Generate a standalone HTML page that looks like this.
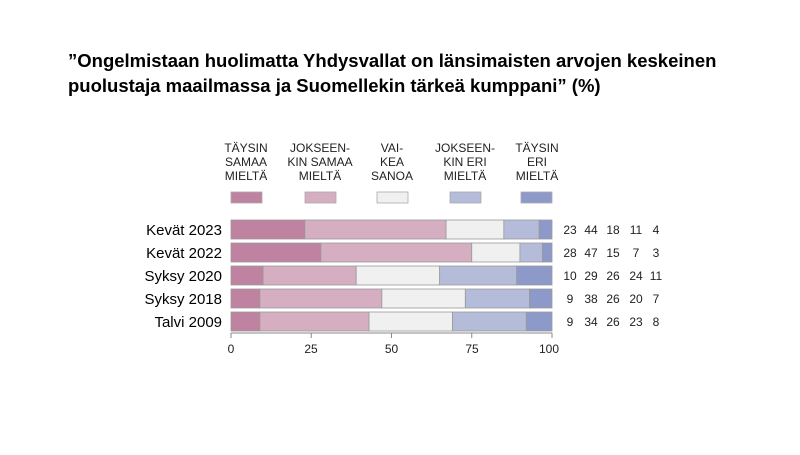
<!DOCTYPE html>
<html><head><meta charset="utf-8"><style>
body{margin:0;background:#fff;}
svg text{font-family:"Liberation Sans",sans-serif;}
</style></head><body>
<svg width="800" height="450" xmlns="http://www.w3.org/2000/svg">
<rect width="800" height="450" fill="#fff"/>
<text x="68" y="67" font-size="18.5" font-weight="bold" fill="#000">”Ongelmistaan huolimatta Yhdysvallat on länsimaisten arvojen keskeinen</text>
<text x="68" y="92" font-size="18.5" font-weight="bold" fill="#000">puolustaja maailmassa ja Suomellekin tärkeä kumppani” (%)</text>
<g font-size="12" fill="#222" text-anchor="middle">
<text x="246" y="152">TÄYSIN</text><text x="246" y="166">SAMAA</text><text x="246" y="180">MIELTÄ</text>
<text x="320" y="152">JOKSEEN-</text><text x="320" y="166">KIN SAMAA</text><text x="320" y="180">MIELTÄ</text>
<text x="392" y="152">VAI-</text><text x="392" y="166">KEA</text><text x="392" y="180">SANOA</text>
<text x="465" y="152">JOKSEEN-</text><text x="465" y="166">KIN ERI</text><text x="465" y="180">MIELTÄ</text>
<text x="537" y="152">TÄYSIN</text><text x="537" y="166">ERI</text><text x="537" y="180">MIELTÄ</text>
</g>
<g stroke="#aaa" stroke-width="0.8">
<rect x="231" y="192" width="31" height="11" fill="#bf82a0"/>
<rect x="305" y="192" width="31" height="11" fill="#d5aec2"/>
<rect x="377" y="192" width="31" height="11" fill="#f0f0f0"/>
<rect x="450" y="192" width="31" height="11" fill="#b5bcd9"/>
<rect x="521" y="192" width="31" height="11" fill="#8d99c8"/>
</g>
<g font-size="15" text-anchor="end" fill="#000">
<text x="222" y="235">Kevät 2023</text>
<text x="222" y="258">Kevät 2022</text>
<text x="222" y="281">Syksy 2020</text>
<text x="222" y="304">Syksy 2018</text>
<text x="222" y="327">Talvi 2009</text>
</g>
<g stroke="#999" stroke-width="0.8">
<rect x="231" y="220" width="73.83" height="19" fill="#bf82a0"/>
<rect x="304.83" y="220" width="141.24" height="19" fill="#d5aec2"/>
<rect x="446.07" y="220" width="57.78" height="19" fill="#f0f0f0"/>
<rect x="503.85" y="220" width="35.31" height="19" fill="#b5bcd9"/>
<rect x="539.16" y="220" width="12.84" height="19" fill="#8d99c8"/>

<rect x="231" y="243" width="89.88" height="19" fill="#bf82a0"/>
<rect x="320.88" y="243" width="150.87" height="19" fill="#d5aec2"/>
<rect x="471.75" y="243" width="48.15" height="19" fill="#f0f0f0"/>
<rect x="519.9" y="243" width="22.47" height="19" fill="#b5bcd9"/>
<rect x="542.37" y="243" width="9.63" height="19" fill="#8d99c8"/>

<rect x="231" y="266" width="32.1" height="19" fill="#bf82a0"/>
<rect x="263.1" y="266" width="93.09" height="19" fill="#d5aec2"/>
<rect x="356.19" y="266" width="83.46" height="19" fill="#f0f0f0"/>
<rect x="439.65" y="266" width="77.04" height="19" fill="#b5bcd9"/>
<rect x="516.69" y="266" width="35.31" height="19" fill="#8d99c8"/>

<rect x="231" y="289" width="28.89" height="19" fill="#bf82a0"/>
<rect x="259.89" y="289" width="121.98" height="19" fill="#d5aec2"/>
<rect x="381.87" y="289" width="83.46" height="19" fill="#f0f0f0"/>
<rect x="465.33" y="289" width="64.2" height="19" fill="#b5bcd9"/>
<rect x="529.53" y="289" width="22.47" height="19" fill="#8d99c8"/>

<rect x="231" y="312" width="28.89" height="19" fill="#bf82a0"/>
<rect x="259.89" y="312" width="109.14" height="19" fill="#d5aec2"/>
<rect x="369.03" y="312" width="83.46" height="19" fill="#f0f0f0"/>
<rect x="452.49" y="312" width="73.83" height="19" fill="#b5bcd9"/>
<rect x="526.32" y="312" width="25.68" height="19" fill="#8d99c8"/>
</g>
<g font-size="12" text-anchor="middle" fill="#222">
<text x="570" y="234">23</text><text x="591" y="234">44</text><text x="613" y="234">18</text><text x="636" y="234">11</text><text x="656" y="234">4</text>
<text x="570" y="257">28</text><text x="591" y="257">47</text><text x="613" y="257">15</text><text x="636" y="257">7</text><text x="656" y="257">3</text>
<text x="570" y="280">10</text><text x="591" y="280">29</text><text x="613" y="280">26</text><text x="636" y="280">24</text><text x="656" y="280">11</text>
<text x="570" y="303">9</text><text x="591" y="303">38</text><text x="613" y="303">26</text><text x="636" y="303">20</text><text x="656" y="303">7</text>
<text x="570" y="326">9</text><text x="591" y="326">34</text><text x="613" y="326">26</text><text x="636" y="326">23</text><text x="656" y="326">8</text>
</g>
<line x1="231" y1="333" x2="552" y2="333" stroke="#888"/>
<g stroke="#888">
<line x1="231" y1="333" x2="231" y2="338"/><line x1="311.25" y1="333" x2="311.25" y2="338"/>
<line x1="391.5" y1="333" x2="391.5" y2="338"/><line x1="471.75" y1="333" x2="471.75" y2="338"/>
<line x1="552" y1="333" x2="552" y2="338"/>
</g>
<g font-size="12" fill="#222" text-anchor="middle">
<text x="231" y="353">0</text><text x="311" y="353">25</text><text x="391.5" y="353">50</text><text x="472" y="353">75</text><text x="549" y="353">100</text>
</g>
</svg>
</body></html>
